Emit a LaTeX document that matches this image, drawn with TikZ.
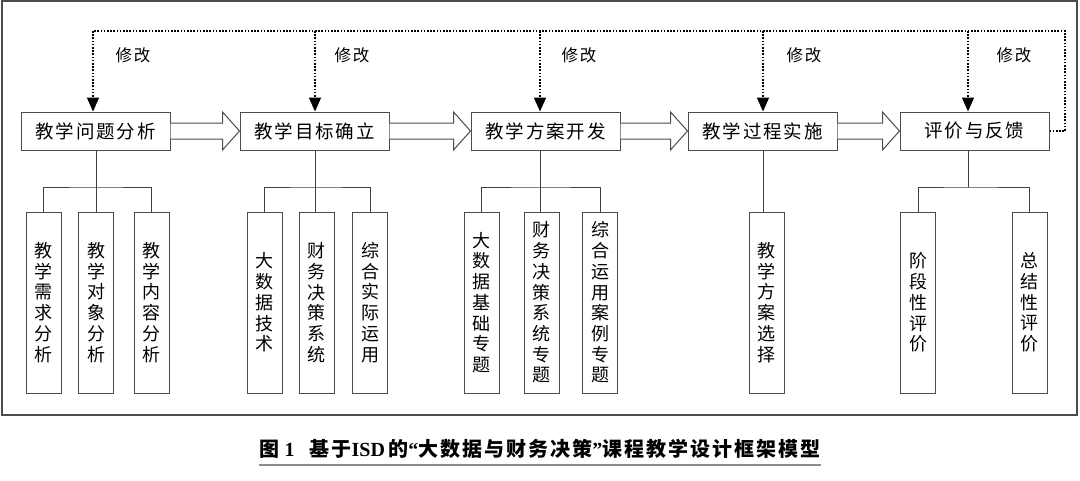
\documentclass[tikz,border=0pt]{standalone}
\usepackage{fontspec}
\setmainfont{Liberation Serif}
\newfontfamily\cjk{Noto Sans CJK SC}
\newfontfamily\cjkw{Noto Sans CJK SC}[LetterSpace=10]
\usetikzlibrary{arrows.meta,calc}
\begin{document}
\begin{tikzpicture}[x=1pt,y=-1pt,
  frame/.style={draw=black!70, line width=1.2pt},
  box/.style={draw=black!70, line width=1pt, minimum width=149pt, minimum height=38pt, inner sep=0pt, font=\cjkw\fontsize{18.5}{20}\selectfont},
  sub/.style={draw=black!70, line width=1pt, minimum width=35pt, minimum height=181pt, inner sep=0pt, align=center, font=\cjk\fontsize{18}{20.7}\selectfont},
  link/.style={draw=black!75, line width=1pt},
  hollow/.style={draw=black!70, line width=1pt, fill=white},
  dotline/.style={line width=1.6pt, dash pattern=on 1.6pt off 1.6pt},
  fb/.style={dotline, -{Triangle[width=12pt,length=14pt]}},
  lbl/.style={font=\cjkw\fontsize{16.5}{16}\selectfont}
]
\useasboundingbox (0,0) rectangle (1080,480);
\draw[frame] (2,1) rectangle (1077,415);

% main boxes
\node[box] (b1) at (95.5,131) {教学问题分析};
\node[box] (b2) at (314.5,131) {教学目标确立};
\node[box] (b3) at (545.5,131) {教学方案开发};
\node[box] (b4) at (762.5,131) {教学过程实施};
\node[box] (b5) at (974.5,131) {评价与反馈};

% hollow arrows
\foreach \a/\b in {b1/b2,b2/b3,b3/b4,b4/b5}
  \draw[hollow] ($(\a.east)+(0,-8)$) -- ($(\b.west)+(-17,-8)$) -- ($(\b.west)+(-17,-19)$)
    -- (\b.west) -- ($(\b.west)+(-17,19)$) -- ($(\b.west)+(-17,8)$) -- ($(\a.east)+(0,8)$);

% feedback (dotted) lines
\coordinate (t1) at (93,31);
\coordinate (t2) at (315,31);
\coordinate (t3) at (540,31);
\coordinate (t4) at (763,31);
\coordinate (t5) at (968,31);
\coordinate (rc) at (1065,31);
\draw[dotline] (b5.east) -| (rc) -- (t1);
\draw[fb] (t1) -- (t1 |- b1.north);
\draw[fb] (t2) -- (t2 |- b2.north);
\draw[fb] (t3) -- (t3 |- b3.north);
\draw[fb] (t4) -- (t4 |- b4.north);
\draw[fb] (t5) -- (t5 |- b5.north);
\node[lbl] (m1) at (133,55) {修改};
\node[lbl] (m2) at (352,55) {修改};
\node[lbl] (m3) at (579,55) {修改};
\node[lbl] (m4) at (804,55) {修改};
\node[lbl] (m5) at (1014,55) {修改};

% sub boxes
\node[sub] (s11) at (43.5,302.5) {教\\学\\需\\求\\分\\析};
\node[sub] (s12) at (96,302.5) {教\\学\\对\\象\\分\\析};
\node[sub] (s13) at (151.5,302.5) {教\\学\\内\\容\\分\\析};
\node[sub] (s21) at (264.5,302.5) {大\\数\\据\\技\\术};
\node[sub] (s22) at (316.5,302.5) {财\\务\\决\\策\\系\\统};
\node[sub] (s23) at (370,302.5) {综\\合\\实\\际\\运\\用};
\node[sub] (s31) at (481.5,302.5) {大\\数\\据\\基\\础\\专\\题};
\node[sub] (s32) at (541.5,302.5) {财\\务\\决\\策\\系\\统\\专\\题};
\node[sub] (s33) at (600,302.5) {综\\合\\运\\用\\案\\例\\专\\题};
\node[sub] (s41) at (766.5,302.5) {教\\学\\方\\案\\选\\择};
\node[sub] (s51) at (918,302.5) {阶\\段\\性\\评\\价};
\node[sub] (s52) at (1029.5,302.5) {总\\结\\性\\评\\价};

% tree links
\coordinate (j1) at (96,187);
\coordinate (j2) at (315,187);
\coordinate (j3) at (540,187);
\coordinate (j4) at (763,187);
\coordinate (j5) at (968,187);
\draw[link] (j1 |- b1.south) -- (j1 |- s12.north);
\draw[link] (s11.north) |- (j1) -| (s13.north);
\draw[link] (j2 |- b2.south) -- (j2 |- s22.north);
\draw[link] (s21.north) |- (j2) -| (s23.north);
\draw[link] (j3 |- b3.south) -- (j3 |- s32.north);
\draw[link] (s31.north) |- (j3) -| (s33.north);
\draw[link] (j4 |- b4.south) -- (j4 |- s41.north);
\draw[link] (j5 |- b5.south) -- (j5);
\draw[link] (s51.north) |- (j5) -| (s52.north);

% caption
\node[font=\fontsize{20}{20}\selectfont\bfseries, inner sep=0pt] (cap) at (540,449)
  {{\cjkw\bfseries 图}\ 1\ \ \ {\cjkw\bfseries 基于}ISD\,{\cjkw\bfseries 的}“{\cjkw\bfseries 大数据与财务决策}”{\cjkw\bfseries 课程教学设计框架模型}};
\draw[black!45, line width=2.5pt] ($(cap.south west)+(0,6)$) -- ($(cap.south east)+(0,6)$);
\end{tikzpicture}
\end{document}
